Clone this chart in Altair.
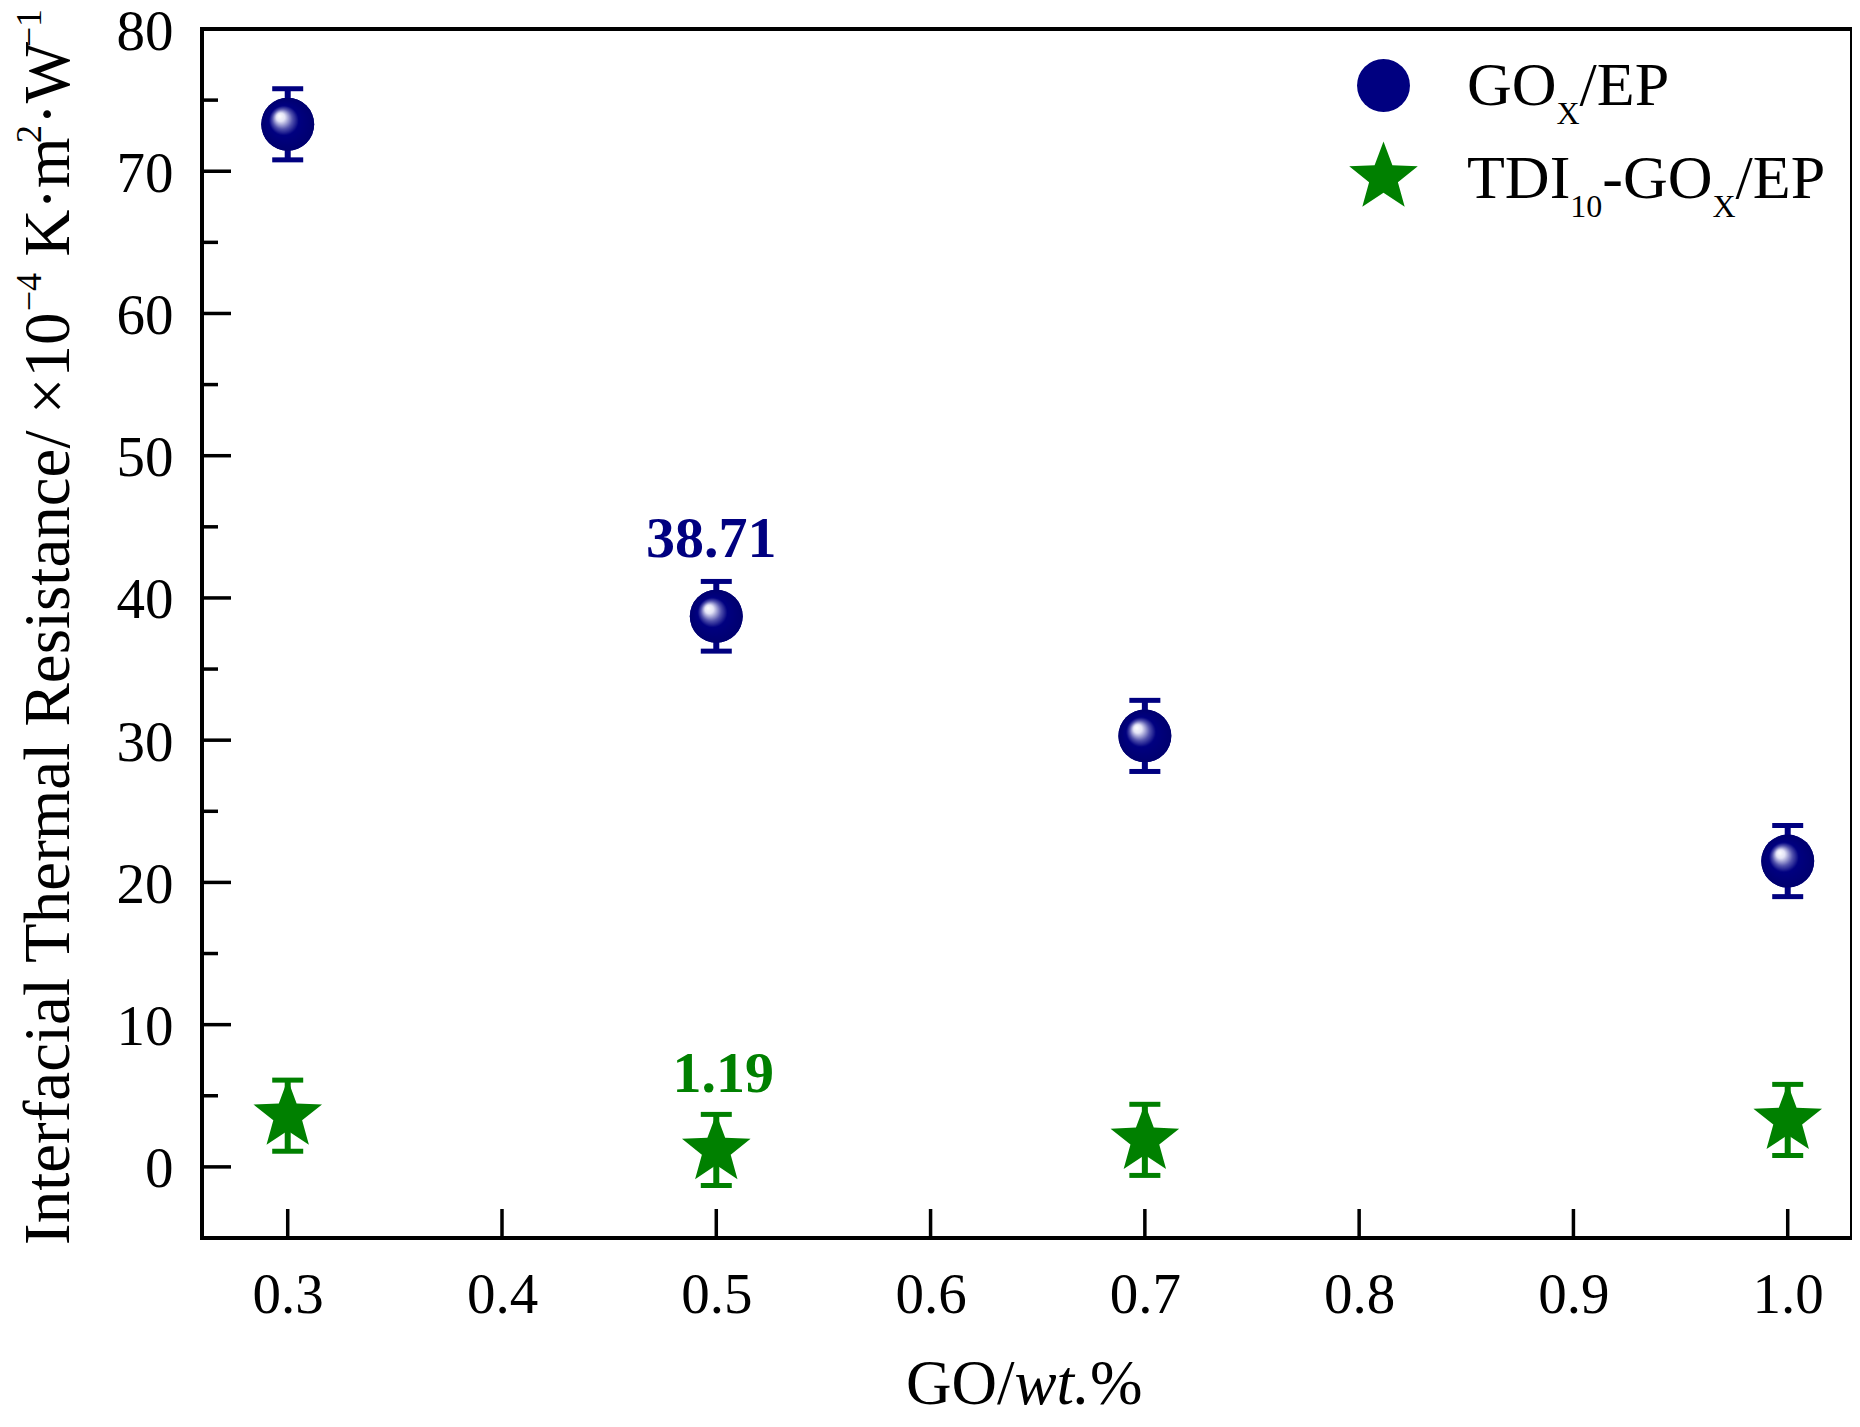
import pandas as pd
import altair as alt

# data
go_wt = [0.3, 0.5, 0.7, 1.0]
go_mean = [73.3, 38.71, 30.3, 21.5]
go_err = [2.5, 2.45, 2.5, 2.5]
tdi_mean = [3.6, 1.19, 1.9, 3.3]
tdi_err = [2.5, 2.5, 2.5, 2.5]
series_names = ["GOx/EP", "TDI10-GOx/EP"]
x_ticks = [0.3, 0.4, 0.5, 0.6, 0.7, 0.8, 0.9, 1.0]
y_major = [0, 10, 20, 30, 40, 50, 60, 70, 80]
y_minor = [5, 15, 25, 35, 45, 55, 65, 75]
ann_x = [0.5, 0.5]
ann_val = [38.71, 1.19]

NAVY = "#000080"
GREEN = "#008000"
FONT = "Liberation Serif"
W, H = 1650, 1209
STAR = ("M0,-1L0.2469,-0.3398L0.9511,-0.309L0.3995,0.1298L0.5878,0.809"
        "L0,0.42L-0.5878,0.809L-0.3995,0.1298L-0.9511,-0.309L-0.2469,-0.3398Z")

xscale = alt.Scale(domain=[0.26, 1.03], nice=False, zero=False)
yscale = alt.Scale(domain=[-5, 80], nice=False, zero=False)
xaxis = alt.Axis(values=x_ticks, format=".1f", title=None)
yaxis = alt.Axis(values=y_major, format="d", title=None, labelOffset=3)

df = pd.DataFrame({
    "series": [series_names[0]] * 4 + [series_names[1]] * 4,
    "wt": go_wt + go_wt,
    "mean": go_mean + tdi_mean,
    "lo": [m - e for m, e in zip(go_mean, go_err)] + [m - e for m, e in zip(tdi_mean, tdi_err)],
    "hi": [m + e for m, e in zip(go_mean, go_err)] + [m + e for m, e in zip(tdi_mean, tdi_err)],
})

X = alt.X("wt:Q", scale=xscale, axis=xaxis)

layers = []

# inward ticks
layers.append(alt.Chart(pd.DataFrame({"t": x_ticks})).mark_rule(color="black", strokeWidth=3.5).encode(
    x=alt.X("t:Q", scale=xscale, axis=xaxis), y=alt.value(H), y2=alt.value(H - 29)))
layers.append(alt.Chart(pd.DataFrame({"t": y_major})).mark_rule(color="black", strokeWidth=3.5).encode(
    y=alt.Y("t:Q", scale=yscale, axis=yaxis), x=alt.value(0), x2=alt.value(29)))
layers.append(alt.Chart(pd.DataFrame({"t": y_minor})).mark_rule(color="black", strokeWidth=3.5).encode(
    y=alt.Y("t:Q", scale=yscale, axis=yaxis), x=alt.value(0), x2=alt.value(16)))

# error bars
for name, col in zip(series_names, [NAVY, GREEN]):
    sub = df[df.series == name]
    base = alt.Chart(sub)
    layers.append(base.mark_rule(color=col, strokeWidth=6).encode(
        x=X, y=alt.Y("lo:Q", scale=yscale, axis=yaxis), y2="hi:Q"))
    for end in ["lo", "hi"]:
        layers.append(base.mark_tick(color=col, orient="horizontal", size=31, thickness=5, opacity=1).encode(
            x=X, y=alt.Y(f"{end}:Q", scale=yscale, axis=yaxis)))

leg = alt.Legend(orient="none", legendX=1145, legendY=30, title=None, labelExpr="''",
                 labelFontSize=2, padding=0, offset=0, rowPadding=29, symbolStrokeWidth=0)

layers.append(alt.Chart(df).mark_point(filled=True, opacity=1, strokeWidth=0).encode(
    x=X,
    y=alt.Y("mean:Q", scale=yscale, axis=yaxis),
    color=alt.Color("series:N", scale=alt.Scale(domain=series_names, range=[NAVY, GREEN]), legend=leg),
    shape=alt.Shape("series:N", scale=alt.Scale(domain=series_names, range=["circle", STAR]), legend=leg),
    size=alt.Size("series:N", scale=alt.Scale(domain=series_names, range=[2800, 5200]), legend=leg),
))

# shaded spheres on top of the plain circles
sphere = {"gradient": "radial", "x1": 0.34, "y1": 0.34, "r1": 0, "x2": 0.5, "y2": 0.5, "r2": 0.5,
          "stops": [{"offset": 0, "color": "#ffffff"}, {"offset": 0.16, "color": "#e4e4f6"},
                    {"offset": 0.38, "color": "#5252ac"}, {"offset": 0.56, "color": NAVY},
                    {"offset": 1, "color": "#00006e"}]}
layers.append(alt.Chart(df[df.series == series_names[0]]).mark_point(
    shape="circle", size=2800, filled=True, fill=sphere, strokeWidth=0, opacity=1).encode(
    x=X, y=alt.Y("mean:Q", scale=yscale, axis=yaxis)))

# value annotations
ann = pd.DataFrame({"wt": ann_x, "v": ann_val, "lab": [f"{v:g}" for v in ann_val]})
for i, (col, dx, dy) in enumerate([(NAVY, -5, -59), (GREEN, 7, -58)]):
    layers.append(alt.Chart(ann.iloc[[i]]).mark_text(
        font=FONT, fontSize=58, fontWeight="bold", color=col, dx=dx, dy=dy, baseline="alphabetic").encode(
        x=X, y=alt.Y("v:Q", scale=yscale, axis=yaxis), text="lab:N"))


def txt(s, x, y, size, angle=0, style="normal"):
    return alt.Chart(pd.DataFrame({"a": [0]})).mark_text(
        text=s, font=FONT, fontSize=size, fontStyle=style, color="black", align="left",
        baseline="alphabetic", angle=angle).encode(x=alt.value(x), y=alt.value(y))


# y title with superscripts
for s, xx, yy, fs in [("Interfacial Thermal Resistance/ ×10", -133, 1216, 65),
                      ("−4", -161, 282.2, 36),
                      ("K·m", -133, 227.6, 65),
                      ("2", -161, 113.9, 36),
                      ("·W", -133, 95.9, 65),
                      ("−1", -161, 18.3, 36)]:
    layers.append(txt(s, xx, yy, fs, angle=270))

# x title with italic part
layers.append(txt("GO/", 704, 1375, 63))
layers.append(txt("wt.", 812.5, 1375, 63, style="italic"))
layers.append(txt("%", 888, 1375, 63))

# legend labels with subscripts
for s, xx, yy, fs in [("GO", 1265, 76, 62), ("X", 1354.5, 95, 32), ("/EP", 1377.6, 76, 62),
                      ("TDI", 1265, 169, 62), ("10", 1368.3, 188, 32), ("-GO", 1400.3, 169, 62),
                      ("X", 1510.5, 188, 32), ("/EP", 1533.6, 169, 62)]:
    layers.append(txt(s, xx, yy, fs))

chart = alt.layer(*layers).properties(
    width=W, height=H,
    autosize=alt.AutoSizeParams(type="none"),
    padding={"left": 194, "top": 21, "right": 0, "bottom": 181},
    background="white",
).configure_view(
    stroke="black", strokeWidth=4
).configure_axis(
    domain=False, ticks=False, grid=False,
    labelFont=FONT, labelFontSize=57, labelColor="black", labelPadding=29,
)

chart.save("out.html", embed_options={"renderer": "svg", "actions": False})
